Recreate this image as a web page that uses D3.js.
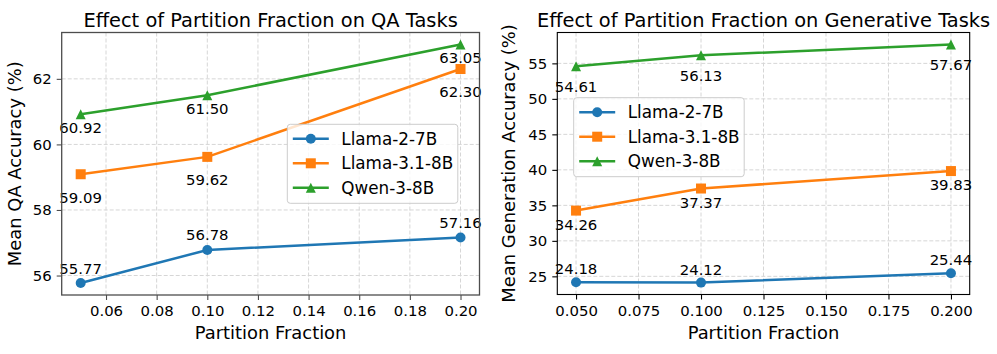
<!DOCTYPE html>
<html>
<head>
<meta charset="utf-8">
<script src="https://cdn.jsdelivr.net/npm/d3@7"></script>
<style>
  html, body { margin: 0; padding: 0; background: #ffffff; }
  svg { display: block; font-family: "DejaVu Sans", sans-serif; }
</style>
</head>
<body>
<svg id="chart" width="997" height="354"></svg>
<script>
// ---------------- data ----------------
const partitionFractions = [0.05, 0.10, 0.20];
const seriesNames = ["Llama-2-7B", "Llama-3.1-8B", "Qwen-3-8B"];

const qaLlama2 = [55.77, 56.78, 57.16];
const qaLlama31 = [59.09, 59.62, 62.30];
const qaQwen3 = [60.92, 61.50, 63.05];

const genLlama2 = [24.18, 24.12, 25.44];
const genLlama31 = [34.26, 37.37, 39.83];
const genQwen3 = [54.61, 56.13, 57.67];

const qaXTicks = [0.06, 0.08, 0.10, 0.12, 0.14, 0.16, 0.18, 0.20];
const qaYTicks = [56, 58, 60, 62];
const genXTicks = [0.050, 0.075, 0.100, 0.125, 0.150, 0.175, 0.200];
const genYTicks = [25, 30, 35, 40, 45, 50, 55];

const qaTitle = "Effect of Partition Fraction on QA Tasks";
const genTitle = "Effect of Partition Fraction on Generative Tasks";
const xLabel = "Partition Fraction";
const qaYLabel = "Mean QA Accuracy (%)";
const genYLabel = "Mean Generation Accuracy (%)";

// ---------------- styles ----------------
const colors = ["#1f77b4", "#ff7f0e", "#2ca02c"];
const markers = ["circle", "square", "triangle"];
const tickFont = 14.9, labelFont = 17.9, titleFont = 19.4, legendFont = 16.8;

const svg = d3.select("#chart");

function drawMarker(g, type, x, y, color) {
  const s = 10;
  if (type === "circle") {
    g.append("circle").attr("cx", x).attr("cy", y).attr("r", s / 2).attr("fill", color);
  } else if (type === "square") {
    g.append("rect").attr("x", x - s / 2).attr("y", y - s / 2).attr("width", s).attr("height", s).attr("fill", color);
  } else {
    g.append("path")
      .attr("d", `M${x},${y - s / 2}L${x + s / 2},${y + s / 2}L${x - s / 2},${y + s / 2}Z`)
      .attr("fill", color);
  }
}

function pad(ext) {
  const m = (ext[1] - ext[0]) * 0.05;
  return [ext[0] - m, ext[1] + m];
}

function panel(cfg) {
  const { left, right, top, bottom, series, xTicks, yTicks, xFmt, yFmt, title, yLabel, yLabelX,
          labelOffsets, legend, spine } = cfg;
  const g = svg.append("g");
  const x = d3.scaleLinear().domain(pad(d3.extent(partitionFractions))).range([left, right]);
  const allY = series.flat();
  const y = d3.scaleLinear().domain(pad(d3.extent(allY))).range([bottom, top]);

  // grid
  const grid = g.append("g");
  xTicks.forEach(t => grid.append("line")
    .attr("x1", x(t)).attr("x2", x(t)).attr("y1", top).attr("y2", bottom)
    .attr("stroke", "#d6d6d6").attr("stroke-width", 1).attr("stroke-dasharray", "4,2"));
  yTicks.forEach(t => grid.append("line")
    .attr("y1", y(t)).attr("y2", y(t)).attr("x1", left).attr("x2", right)
    .attr("stroke", "#d6d6d6").attr("stroke-width", 1).attr("stroke-dasharray", "4,2"));

  // axes
  const xAxis = d3.axisBottom(x).tickValues(xTicks).tickFormat(xFmt).tickSize(5).tickPadding(5);
  const yAxis = d3.axisLeft(y).tickValues(yTicks).tickFormat(yFmt).tickSize(5).tickPadding(5);
  const gx = g.append("g").attr("transform", `translate(0,${bottom})`).call(xAxis);
  const gy = g.append("g").attr("transform", `translate(${left},0)`).call(yAxis);
  [gx, gy].forEach(a => {
    a.select(".domain").remove();
    a.selectAll("line").attr("stroke", spine.color).attr("stroke-width", 1.1);
    a.selectAll("text").attr("font-size", tickFont).attr("fill", "#000")
      .attr("font-family", "DejaVu Sans");
  });
  gx.selectAll("text").attr("dy", null).attr("y", 21.3).attr("dominant-baseline", "alphabetic");

  // series
  const lineGen = d3.line().x((d, i) => x(partitionFractions[i])).y(d => y(d));
  series.forEach((vals, si) => {
    g.append("path").datum(vals).attr("d", lineGen).attr("fill", "none")
      .attr("stroke", colors[si]).attr("stroke-width", 2.5).attr("stroke-linejoin", "round");
    vals.forEach((v, i) => drawMarker(g, markers[si], x(partitionFractions[i]), y(v), colors[si]));
  });
  // value labels
  series.forEach((vals, si) => {
    vals.forEach((v, i) => {
      g.append("text")
        .attr("x", x(partitionFractions[i]))
        .attr("y", y(v) + labelOffsets[si] + 0.365 * tickFont)
        .attr("text-anchor", "middle")
        .attr("font-size", tickFont).attr("fill", "#000")
        .text(v.toFixed(2));
    });
  });

  // frame
  g.append("rect").attr("x", left).attr("y", top).attr("width", right - left).attr("height", bottom - top)
    .attr("fill", "none").attr("stroke", spine.color).attr("stroke-width", spine.width);

  // title & labels
  g.append("text").attr("x", (left + right) / 2).attr("y", 26.5).attr("text-anchor", "middle")
    .attr("font-size", titleFont).attr("fill", "#000").text(title);
  g.append("text").attr("x", (left + right) / 2).attr("y", 338.5).attr("text-anchor", "middle")
    .attr("font-size", labelFont).attr("fill", "#000").text(xLabel);
  g.append("text").attr("transform", `translate(${yLabelX},${(top + bottom) / 2}) rotate(-90)`)
    .attr("text-anchor", "middle").attr("font-size", labelFont).attr("fill", "#000").text(yLabel);

  // legend
  const lg = g.append("g").attr("transform", `translate(${legend.x},${legend.y})`);
  lg.append("rect").attr("width", 170.5).attr("height", 79).attr("rx", 3).attr("ry", 3)
    .attr("fill", "#ffffff").attr("fill-opacity", 0.8).attr("stroke", "#cccccc").attr("stroke-width", 1);
  seriesNames.forEach((name, si) => {
    const cy = 14.5 + si * 24.5;
    lg.append("line").attr("x1", 5.5).attr("x2", 41.5).attr("y1", cy).attr("y2", cy)
      .attr("stroke", colors[si]).attr("stroke-width", 2.5);
    drawMarker(lg, markers[si], 23.5, cy, colors[si]);
    lg.append("text").attr("x", 54).attr("y", cy + 0.365 * legendFont)
      .attr("font-size", legendFont).attr("fill", "#000").text(name);
  });
}

panel({
  left: 61.7, right: 479.5, top: 32.5, bottom: 295,
  series: [qaLlama2, qaLlama31, qaQwen3],
  xTicks: qaXTicks, yTicks: qaYTicks,
  xFmt: d3.format(".2f"), yFmt: d3.format("d"),
  title: qaTitle, yLabel: qaYLabel, yLabelX: 20.5,
  labelOffsets: [-15, 23, 13],
  legend: { x: 287.3, y: 124.3 },
  spine: { color: "#4d4d4d", width: 1.3 }
});

panel({
  left: 557.3, right: 969.7, top: 32.5, bottom: 294.5,
  series: [genLlama2, genLlama31, genQwen3],
  xTicks: genXTicks, yTicks: genYTicks,
  xFmt: d3.format(".3f"), yFmt: d3.format("d"),
  title: genTitle, yLabel: genYLabel, yLabelX: 515,
  labelOffsets: [-13.5, 14, 20.5],
  legend: { x: 573.7, y: 97.7 },
  spine: { color: "#000000", width: 1.1 }
});
</script>
</body>
</html>
